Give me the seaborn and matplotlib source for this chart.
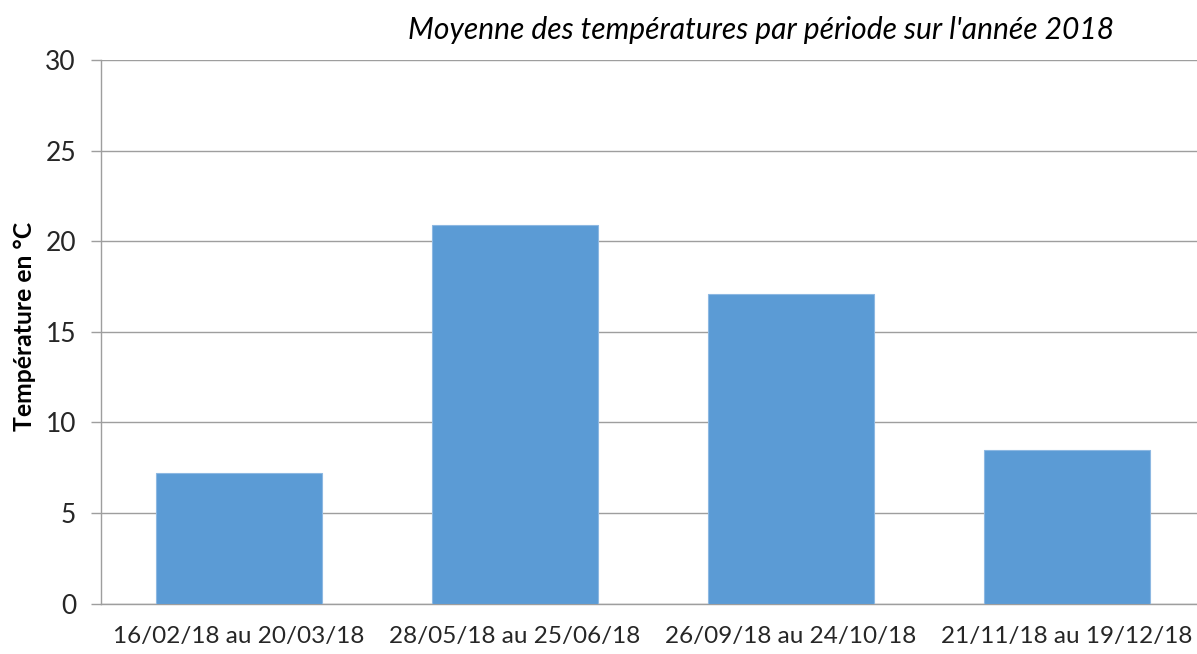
import matplotlib
matplotlib.use("Agg")
import matplotlib.pyplot as plt
import seaborn as sns
import pandas as pd

periods = ["16/02/18 au 20/03/18", "28/05/18 au 25/06/18",
           "26/09/18 au 24/10/18", "21/11/18 au 19/12/18"]
temperatures = [7.2, 20.9, 17.1, 8.5]
y_ticks = [0, 5, 10, 15, 20, 25, 30]
title = "Moyenne des températures par période sur l'année 2018"
ylabel = "Température en °C"

df = pd.DataFrame({"periode": periods, "temp": temperatures})

sns.set_theme(style="white")
plt.rcParams["font.family"] = ["Lato", "DejaVu Sans"]

fig = plt.figure(figsize=(11.97, 6.54), dpi=100)
W, H = 1197, 654
ax_w = 1104
ax = fig.add_axes([101 / W, (H - 603.5) / H, ax_w / W, (603.5 - 60) / H])

sns.barplot(data=df, x="periode", y="temp", color="#5B9BD5", width=0.6,
            saturation=1, edgecolor="#8DB8E2", linewidth=0.8, ax=ax, zorder=3)

ax.set_xlim(-0.5, 3.5)
ax.set_ylim(0, 30)
ax.set_yticks(y_ticks)
ax.set_yticklabels([str(v) for v in y_ticks], fontsize=19, color="#262626")
ax.grid(axis="y", color="#9E9E9E", linewidth=1.0, zorder=0)
ax.set_axisbelow(True)

ax.set_xticks(range(len(periods)))
ax.set_xticklabels(periods, fontsize=17.5, color="#262626")
ax.set_xticks([0.5, 1.5, 2.5, 3.5], minor=True)
ax.tick_params(axis="x", which="major", length=0, pad=16.5)
ax.tick_params(axis="x", which="minor", length=4.5, color="#9E9E9E", width=1)
ax.tick_params(axis="y", which="major", length=7, color="#9E9E9E", width=1,
               pad=11, left=True)

for s in ["top", "right"]:
    ax.spines[s].set_visible(False)
for s in ["left", "bottom"]:
    ax.spines[s].set_color("#9E9E9E")
    ax.spines[s].set_linewidth(1)

ax.set_xlabel("")
ax.set_ylabel(ylabel, fontsize=17.8, fontweight="bold", color="black")
ax.yaxis.set_label_coords((25 - 101) / ax_w, (603.5 - 326) / (603.5 - 60))
ax.yaxis.label.set_va("center")

fig.text(761 / W, 1 - 30 / H, title, fontsize=21.6, style="italic",
         color="black", ha="center", va="center")

fig.savefig("out.png", dpi=100)
